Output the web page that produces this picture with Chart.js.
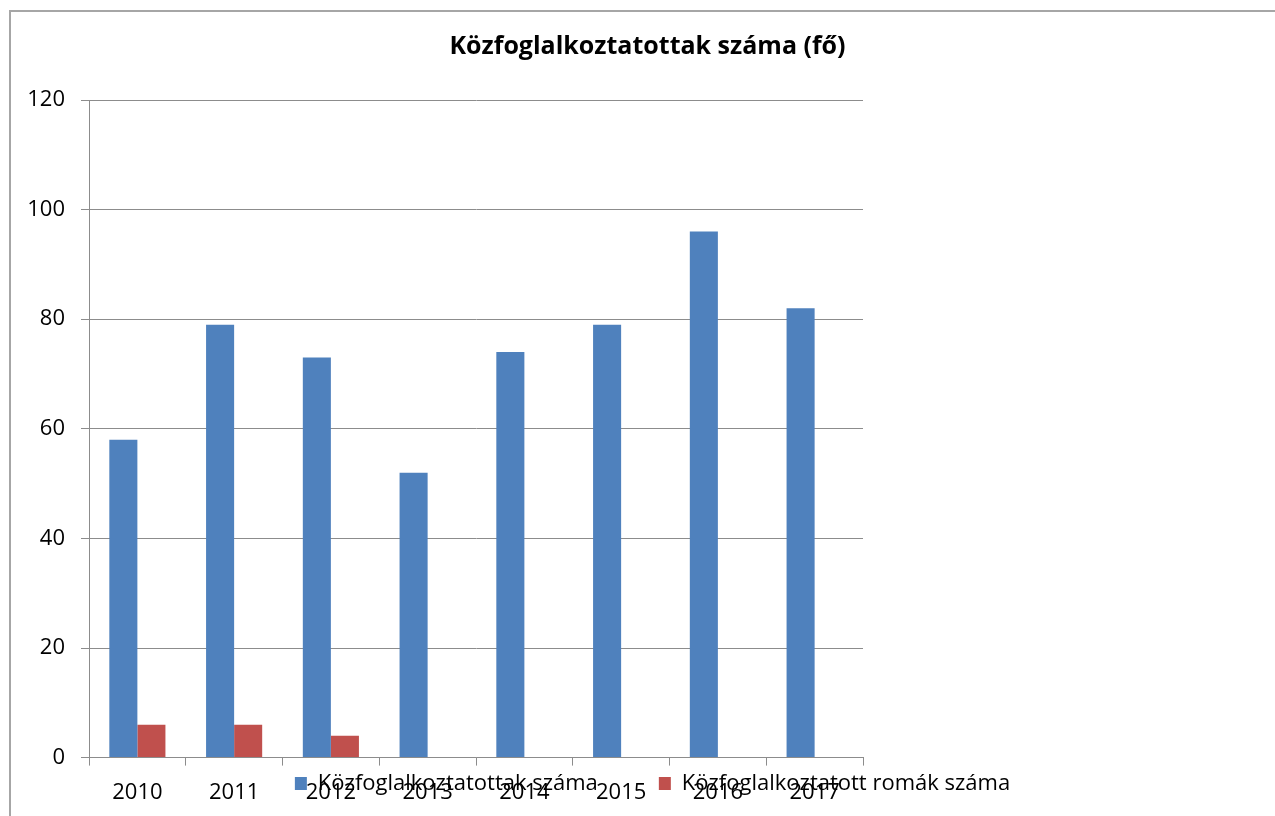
<!DOCTYPE html>
<html>
<head>
<meta charset="utf-8">
<script src="https://cdn.jsdelivr.net/npm/chart.js@4.4.1/dist/chart.umd.min.js"></script>
<style>
    html, body { margin: 0; padding: 0; background: #fff; }
    #frame {
        position: absolute; left: 9px; top: 10px; width: 1266px; height: 806px;
        border-left: 2px solid #a6a6a6; border-top: 2px solid #a6a6a6;
    }
    #wrap { position: absolute; left: 0; top: 0; width: 1275px; height: 816px; }
</style>
</head>
<body>
<div id="frame"></div>
<div id="wrap"><canvas id="chart" width="1275" height="816"></canvas></div>
<script>
const years = ["2010", "2011", "2012", "2013", "2014", "2015", "2016", "2017"];
const kozfoglalkoztatottak = [58, 79, 73, 52, 74, 79, 96, 82];
const romak = [6, 6, 4, 0, 0, 0, 0, 0];
const yTicks = [0, 20, 40, 60, 80, 100, 120];

const FONT = "'Open Sans', 'Noto Sans', sans-serif";
const GRID = "#8c8c8c";

// the original has its title centred on the whole frame and the legend
// lying over the year labels, so nudge both boxes after layout
const boxShift = {
    id: "boxShift",
    afterLayout: function (chart) {
        const tb = chart.titleBlock;
        if (tb) {
            tb.left += 216; tb.right += 216;
        }
        const lg = chart.legend;
        if (lg) {
            const p = lg.options.labels.padding;
            // legend text sits at top + padding, the box is item + padding + 10 high
            const textMid = lg.top + (lg.height + p - 10) / 2;
            const dy = chart.chartArea.bottom + 26 - textMid;
            const dx = 221;
            lg.top += dy; lg.bottom += dy;
            lg.left += dx; lg.right += dx;
            if (typeof lg.adjustHitBoxes === "function") lg.adjustHitBoxes();
        }
    }
};

const ctx = document.getElementById("chart").getContext("2d");
new Chart(ctx, {
    type: "bar",
    data: {
        labels: years,
        datasets: [
            {
                label: "Közfoglalkoztatottak száma",
                data: kozfoglalkoztatottak,
                backgroundColor: "#4f81bd",
                borderWidth: 0,
                barPercentage: 1.0,
                categoryPercentage: 0.58
            },
            {
                label: "Közfoglalkoztatott romák száma",
                data: romak,
                backgroundColor: "#c0504d",
                borderWidth: 0,
                barPercentage: 1.0,
                categoryPercentage: 0.58
            }
        ]
    },
    options: {
        responsive: false,
        animation: false,
        layout: { padding: { left: 0, right: 412, top: 0, bottom: -97 } },
        plugins: {
            title: {
                display: true,
                text: "Közfoglalkoztatottak száma (fő)",
                color: "#000",
                font: { family: FONT, size: 25, weight: "bold" },
                padding: { top: 32, bottom: 38 }
            },
            legend: {
                position: "bottom",
                labels: {
                    color: "#000",
                    font: { family: FONT, size: 22 },
                    boxWidth: 12,
                    boxHeight: 13,
                    padding: 61
                }
            },
            tooltip: { enabled: false }
        },
        scales: {
            x: {
                grid: { offset: true, drawOnChartArea: false, drawTicks: true, tickLength: 8, color: GRID },
                border: { display: true, color: GRID },
                ticks: { color: "#000", font: { family: FONT, size: 22 }, padding: 14, maxRotation: 0 }
            },
            y: {
                min: 0,
                max: 120,
                afterBuildTicks: function (scale) {
                    scale.ticks = yTicks.map(function (v) { return { value: v }; });
                },
                afterFit: function (scale) { scale.width = 89; },
                grid: { color: GRID, tickLength: 8 },
                border: { display: true, color: GRID },
                ticks: { color: "#000", font: { family: FONT, size: 22 }, padding: 16 }
            }
        }
    },
    plugins: [boxShift]
});
</script>
</body>
</html>
